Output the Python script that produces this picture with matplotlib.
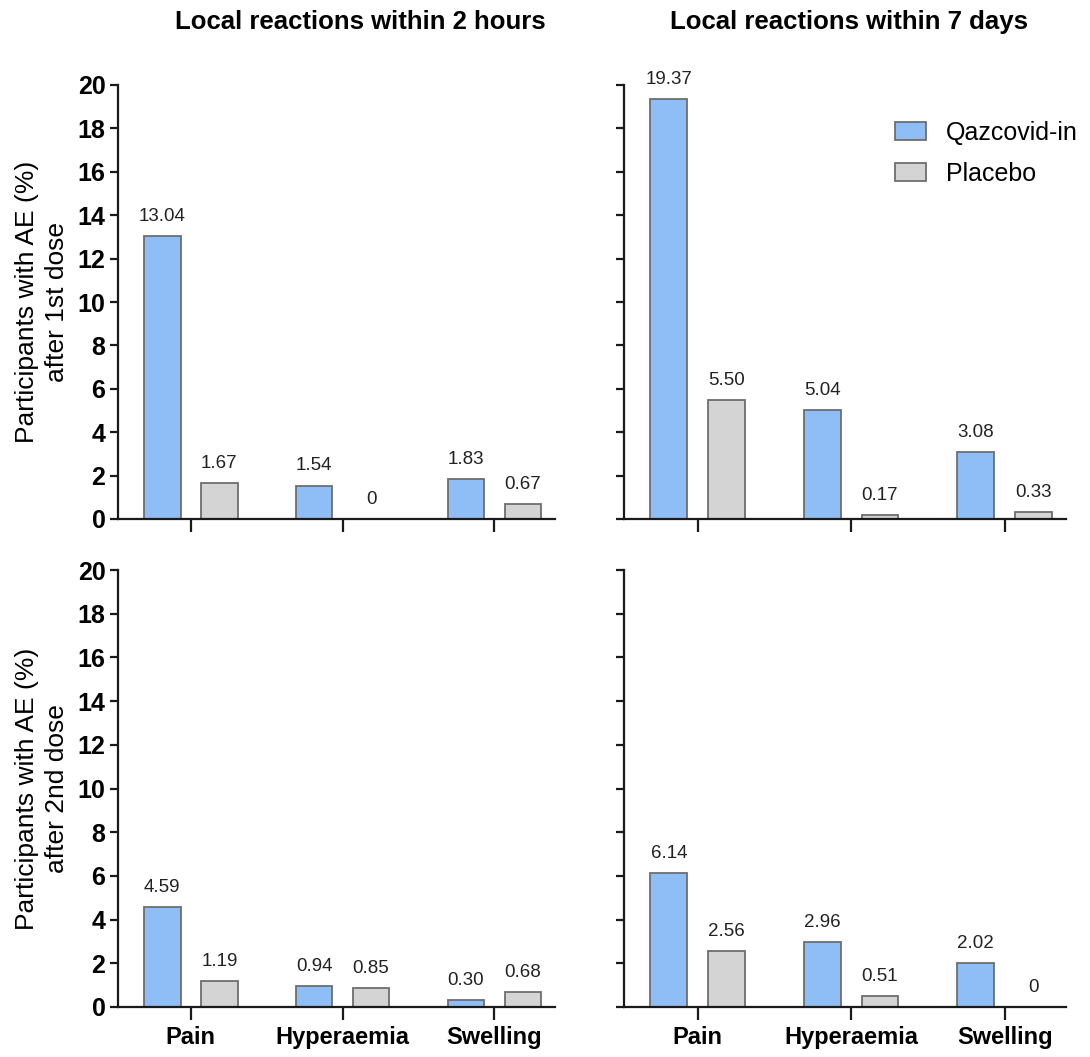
import matplotlib
matplotlib.use("Agg")
import matplotlib.pyplot as plt
import numpy as np

plt.rcParams['font.family'] = ['Liberation Sans', 'DejaVu Sans']

categories = ["Pain", "Hyperaemia", "Swelling"]
series_names = ["Qazcovid-in", "Placebo"]
col_titles = ["Local reactions within 2 hours", "Local reactions within 7 days"]
row_labels = ["Participants with AE (%)\nafter 1st dose", "Participants with AE (%)\nafter 2nd dose"]

# dose1 / dose2, 2 hours / 7 days
d1_2h_vac = [13.04, 1.54, 1.83]
d1_2h_pla = [1.67, 0.0, 0.67]
d1_7d_vac = [19.37, 5.04, 3.08]
d1_7d_pla = [5.50, 0.17, 0.33]
d2_2h_vac = [4.59, 0.94, 0.30]
d2_2h_pla = [1.19, 0.85, 0.68]
d2_7d_vac = [6.14, 2.96, 2.02]
d2_7d_pla = [2.56, 0.51, 0.0]

lab_d1_2h_vac = ["13.04", "1.54", "1.83"]
lab_d1_2h_pla = ["1.67", "0", "0.67"]
lab_d1_7d_vac = ["19.37", "5.04", "3.08"]
lab_d1_7d_pla = ["5.50", "0.17", "0.33"]
lab_d2_2h_vac = ["4.59", "0.94", "0.30"]
lab_d2_2h_pla = ["1.19", "0.85", "0.68"]
lab_d2_7d_vac = ["6.14", "2.96", "2.02"]
lab_d2_7d_pla = ["2.56", "0.51", "0"]

yticks = [0, 2, 4, 6, 8, 10, 12, 14, 16, 18, 20]

blue = "#8fbef7"
gray = "#d4d4d4"
edge = "#6e6e6e"

fig = plt.figure(figsize=(10.9, 10.57), dpi=100)
W, H = 1090, 1057
def box(x0, y0, x1, y1):
    return [x0 / W, 1 - y1 / H, (x1 - x0) / W, (y1 - y0) / H]

positions = [[box(118, 85, 555, 519), box(624, 85, 1066, 519)],
             [box(118, 570, 555, 1007), box(624, 570, 1066, 1007)]]

data = [[(d1_2h_vac, d1_2h_pla, lab_d1_2h_vac, lab_d1_2h_pla),
         (d1_7d_vac, d1_7d_pla, lab_d1_7d_vac, lab_d1_7d_pla)],
        [(d2_2h_vac, d2_2h_pla, lab_d2_2h_vac, lab_d2_2h_pla),
         (d2_7d_vac, d2_7d_pla, lab_d2_7d_vac, lab_d2_7d_pla)]]

title_x = [0.555, 0.51]

x = np.arange(len(categories))
bw = 0.24
off = 0.188

for r in range(2):
    for c in range(2):
        ax = fig.add_axes(positions[r][c])
        vac, pla, lv, lp = data[r][c]
        b1 = ax.bar(x - off, vac, bw, color=blue, edgecolor=edge, linewidth=1.3,
                    label=series_names[0], zorder=2)
        b2 = ax.bar(x + off, pla, bw, color=gray, edgecolor=edge, linewidth=1.3,
                    label=series_names[1], zorder=2)
        for bars, labs in ((b1, lv), (b2, lp)):
            for b, t in zip(bars, labs):
                ax.annotate(t, (b.get_x() + b.get_width() / 2, b.get_height()),
                            xytext=(0, 8), textcoords="offset points",
                            ha="center", va="bottom", fontsize=13.5, color="#222222")
        ax.set_ylim(0, 20)
        ax.set_xlim(-0.48, 2.4)
        ax.set_yticks(yticks)
        ax.set_xticks(x)
        for s in ("top", "right"):
            ax.spines[s].set_visible(False)
        for s in ("left", "bottom"):
            ax.spines[s].set_linewidth(1.6)
            ax.spines[s].set_color("#1a1a1a")
        ax.tick_params(axis="y", length=6, width=1.6, color="#1a1a1a",
                       labelsize=18, pad=3)
        ax.tick_params(axis="x", length=9, width=1.6, color="#1a1a1a",
                       labelsize=17, pad=5)
        if c == 0:
            for lbl in ax.get_yticklabels():
                lbl.set_fontweight("bold")
            ax.set_ylabel(row_labels[r], fontsize=19, labelpad=6, linespacing=1.35)
        else:
            ax.set_yticklabels([])
        if r == 1:
            ax.set_xticklabels(categories, fontsize=17, fontweight="bold")
        else:
            ax.set_xticklabels([])
            t = ax.set_title(col_titles[c], fontsize=18.5, fontweight="bold", pad=40)
            t.set_x(title_x[c])
        if r == 0 and c == 1:
            ax.legend(loc="upper right", bbox_to_anchor=(1.078, 0.97), frameon=False,
                      fontsize=18, handlelength=1.25, handleheight=0.75,
                      handletextpad=0.8, labelspacing=0.68)

fig.savefig("out.png", dpi=100)
